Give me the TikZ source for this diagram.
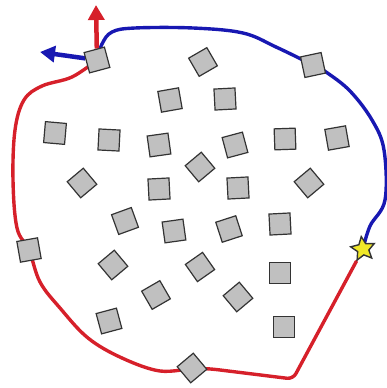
\documentclass[tikz,border=0pt]{standalone}
\usetikzlibrary{shapes.geometric,arrows.meta}
\pgfdeclarelayer{background}
\pgfsetlayers{background,main}
\definecolor{pathred}{RGB}{214,32,42}
\definecolor{pathblue}{RGB}{24,24,178}
\definecolor{boxgray}{RGB}{192,192,192}
\definecolor{staryellow}{RGB}{240,232,40}
\tikzset{
  box/.style={draw=black!80, fill=boxgray, line width=1.2pt, minimum size=21pt, inner sep=0pt, rotate=#1},
  box/.default=0,
  goal/.style={star, star points=5, star point ratio=2.1, draw=black!80, fill=staryellow, line width=1.4pt, minimum size=25pt, inner sep=0pt, rotate=8},
  redpath/.style={draw=pathred, line width=3.4pt, line cap=round, line join=round},
  bluepath/.style={draw=pathblue, line width=3.4pt, line cap=round, line join=round},
  arrowtip/.style={-{Triangle[width=16pt,length=15pt]}, line width=4.5pt}
}
\begin{document}
\begin{tikzpicture}[x=1pt,y=-1pt]
\useasboundingbox (0,0) rectangle (387,388);
\node[box=15] (s1) at (97,60) {};
\node[box=30] (s2) at (203,62) {};
\node[box=12] (s3) at (313,65) {};
\node[box=10] (s4) at (170,100) {};
\node[box=3] (s5) at (225,99) {};
\node[box=-5] (s6) at (55,133) {};
\node[box=-3] (s7) at (109,140) {};
\node[box=8] (s8) at (159,145) {};
\node[box=15] (s9) at (235,145) {};
\node[box=2] (s10) at (285,139) {};
\node[box=10] (s11) at (337,138) {};
\node[box=40] (s12) at (82,183) {};
\node[box=40] (s13) at (200,167) {};
\node[box=3] (s14) at (159,189) {};
\node[box=3] (s15) at (238,188) {};
\node[box=40] (s16) at (309,183) {};
\node[box=20] (s17) at (125,221) {};
\node[box=8] (s18) at (174,231) {};
\node[box=18] (s19) at (229,229) {};
\node[box=3] (s20) at (280,224) {};
\node[box=10] (s21) at (29,250) {};
\node[box=40] (s22) at (113,265) {};
\node[box=35] (s23) at (200,267) {};
\node[box=0] (s24) at (280,273) {};
\node[box=30] (s25) at (156,295) {};
\node[box=40] (s26) at (238,297) {};
\node[box=15] (s27) at (109,321) {};
\node[box=0] (s28) at (284,327) {};
\node[box=40] (s29) at (192,368) {};
\node[goal] (goal) at (363,249) {};
\coordinate (redtip) at (96,5);
\coordinate (bluetip) at (40,52);
\begin{pgfonlayer}{background}
\draw[redpath] plot[smooth, tension=0.6] coordinates {(s1) (72,77) (42,86) (24,100) (15,130) (13,180) (17,228) (s21) (40,282) (60,308) (88,338) (122,358) (160,371) (s29)};
\draw[redpath, rounded corners=6pt] (s29) -- (212,369) -- (293,379) -- (goal);
\draw[bluepath] plot[smooth, tension=0.6] coordinates {(s1) (102,44) (112,32) (135,28) (193,28) (243,33) (276,47) (s3) (326,72) (350,91) (372,120) (384,150) (385,200) (370,226) (goal)};
\draw[arrowtip, pathred] (s1) -- (redtip);
\draw[arrowtip, pathblue] (s1) -- (bluetip);
\end{pgfonlayer}
\end{tikzpicture}
\end{document}
